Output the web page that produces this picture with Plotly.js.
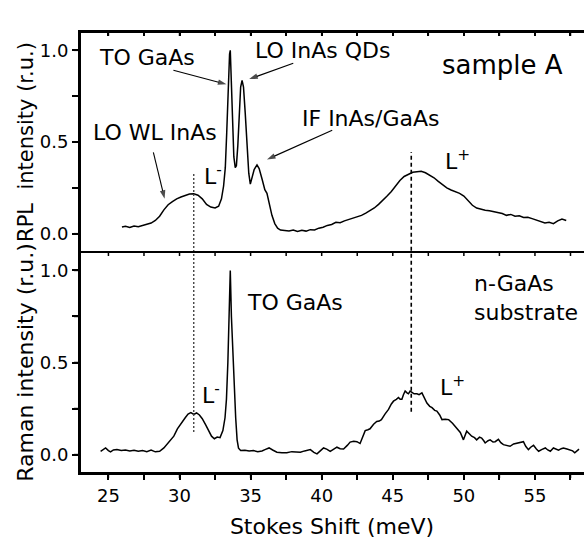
<!DOCTYPE html>
<html>
<head>
<meta charset="utf-8">
<script src="https://cdn.plot.ly/plotly-3.0.1.min.js"></script>
<style>html,body{margin:0;padding:0;background:#fff;}</style>
</head>
<body>
<div id="chart" style="width:584px;height:545px;"></div>
<script>
// RPL spectrum, sample A (top panel)
const rplX = [25.95,26.2,26.5,26.8,27.1,27.4,27.7,28.0,28.3,28.6,28.9,29.2,29.5,29.8,30.1,30.4,30.7,31.0,31.3,31.6,31.9,32.2,32.5,32.75,32.95,33.1,33.22,33.32,33.42,33.52,33.57,33.64,33.72,33.82,33.92,34.0,34.1,34.2,34.3,34.4,34.5,34.62,34.75,34.87,34.98,35.1,35.25,35.45,35.6,35.8,36.0,36.15,36.3,36.5,36.7,36.9,37.1,37.4,37.7,38.0,38.3,38.6,38.9,39.2,39.5,39.8,40.1,40.4,40.7,41.0,41.3,41.6,41.9,42.2,42.5,42.8,43.1,43.4,43.7,44.0,44.3,44.6,44.9,45.2,45.5,45.8,46.1,46.4,46.7,47.0,47.3,47.6,47.9,48.2,48.5,48.8,49.1,49.4,49.7,50.0,50.3,50.6,50.9,51.2,51.5,51.8,52.1,52.4,52.7,53.0,53.3,53.6,53.9,54.2,54.5,54.8,55.1,55.4,55.7,56.0,56.3,56.6,56.9,57.2];
const rplY = [0.036,0.040,0.034,0.042,0.038,0.046,0.050,0.058,0.072,0.095,0.130,0.158,0.175,0.190,0.200,0.210,0.216,0.218,0.210,0.190,0.160,0.145,0.140,0.150,0.190,0.260,0.36,0.55,0.78,0.98,1.0,0.80,0.58,0.42,0.36,0.37,0.48,0.66,0.80,0.836,0.80,0.66,0.46,0.33,0.27,0.30,0.35,0.375,0.355,0.30,0.24,0.22,0.17,0.10,0.055,0.030,0.020,0.018,0.015,0.020,0.012,0.018,0.014,0.022,0.020,0.030,0.035,0.045,0.050,0.062,0.060,0.070,0.078,0.082,0.090,0.100,0.112,0.125,0.140,0.160,0.180,0.205,0.230,0.260,0.290,0.312,0.325,0.335,0.338,0.340,0.332,0.320,0.305,0.285,0.265,0.250,0.238,0.230,0.220,0.205,0.180,0.155,0.140,0.132,0.128,0.125,0.120,0.118,0.110,0.100,0.105,0.095,0.098,0.088,0.090,0.082,0.075,0.065,0.058,0.062,0.055,0.070,0.080,0.072];

// Raman spectrum, n-GaAs substrate (bottom panel)
const ramX = [24.45,24.65,24.8,25.0,25.15,25.35,25.6,25.9,26.2,26.5,26.8,27.1,27.4,27.7,28.0,28.3,28.6,28.9,29.1,29.4,29.6,29.85,30.1,30.4,30.6,30.8,31.0,31.2,31.4,31.6,31.85,32.05,32.25,32.45,32.65,32.85,33.05,33.2,33.3,33.4,33.5,33.57,33.65,33.75,33.85,33.95,34.05,34.15,34.3,34.6,34.9,35.2,35.5,35.8,36.05,36.3,36.55,36.85,37.2,37.55,37.9,38.2,38.5,38.8,39.2,39.45,39.67,39.9,40.13,40.35,40.6,40.85,41.07,41.3,41.54,41.8,42.0,42.25,42.48,42.7,42.9,43.06,43.25,43.4,43.65,43.87,44.05,44.2,44.45,44.7,44.9,45.05,45.25,45.4,45.52,45.64,45.75,45.87,46.0,46.1,46.22,46.35,46.5,46.7,46.85,47.05,47.2,47.4,47.6,47.76,47.95,48.1,48.3,48.46,48.7,48.93,49.2,49.5,49.75,49.97,50.1,50.2,50.4,50.55,50.75,50.9,51.1,51.25,51.4,51.5,51.7,51.85,52.05,52.2,52.43,52.6,52.78,53.0,53.25,53.5,53.72,53.95,54.19,54.35,54.54,54.7,54.9,55.1,55.26,55.5,55.73,55.9,56.08,56.3,56.5,56.66,56.85,57.0,57.25,57.5,57.65,57.8,57.95,58.1];
const ramY = [0.018,0.030,0.036,0.022,0.015,0.025,0.028,0.022,0.025,0.020,0.024,0.018,0.022,0.016,0.024,0.015,0.018,0.036,0.055,0.080,0.100,0.140,0.170,0.200,0.220,0.228,0.218,0.226,0.215,0.195,0.160,0.130,0.100,0.086,0.095,0.092,0.130,0.200,0.300,0.500,0.800,1.0,0.75,0.55,0.34,0.20,0.08,0.035,0.022,0.024,0.020,0.022,0.016,0.020,0.028,0.036,0.025,0.013,0.010,0.010,0.016,0.014,0.013,0.020,0.027,0.012,0.004,0.020,0.036,0.030,0.018,0.030,0.040,0.032,0.030,0.050,0.068,0.072,0.070,0.060,0.100,0.130,0.135,0.140,0.165,0.180,0.182,0.190,0.220,0.245,0.275,0.290,0.300,0.310,0.300,0.300,0.325,0.345,0.335,0.330,0.345,0.340,0.330,0.330,0.325,0.335,0.310,0.280,0.262,0.255,0.240,0.236,0.215,0.190,0.192,0.190,0.170,0.145,0.120,0.080,0.105,0.127,0.112,0.100,0.092,0.080,0.095,0.090,0.075,0.063,0.075,0.080,0.068,0.070,0.083,0.065,0.054,0.050,0.045,0.058,0.063,0.068,0.070,0.045,0.027,0.040,0.050,0.030,0.018,0.028,0.036,0.025,0.018,0.036,0.028,0.024,0.032,0.036,0.030,0.024,0.020,0.010,0.020,0.030];

// Guide lines (L- and L+ positions, meV)
const lMinusPos = 31.0;
const lPlusPos = 46.3;

// Annotation arrows in the top panel: tail -> head (meV, r.u.)
const arrowTailX = [29.57, 38.0, 28.16, 40.74];
const arrowTailY = [0.891, 0.929, 0.444, 0.564];
const arrowHeadX = [33.30, 34.90, 28.95, 36.15];
const arrowHeadY = [0.815, 0.843, 0.19, 0.405];

// Tick positions / labels (major + minor, minor unlabeled)
const xTickVals = [25, 27.5, 30, 32.5, 35, 37.5, 40, 42.5, 45, 47.5, 50, 52.5, 55, 57.5];
const xTickText = ['25', '', '30', '', '35', '', '40', '', '45', '', '50', '', '55', ''];
const yTickVals = [0, 0.25, 0.5, 0.75, 1.0];
const yTickText = ['0.0', '', '0.5', '', '1.0'];

const xRange = [23, 58.45];
const yRange = [-0.1, 1.1];

const F = 'DejaVu Sans';
const split = 0.5011;

const traces = [
  {x: rplX, y: rplY, xaxis: 'x2', yaxis: 'y2', mode: 'lines', line: {color: '#000', width: 1.5}, hoverinfo: 'skip'},
  {x: ramX, y: ramY, xaxis: 'x', yaxis: 'y', mode: 'lines', line: {color: '#000', width: 1.5}, hoverinfo: 'skip'}
];
arrowTailX.forEach(function(tx, i) {
  traces.push({x: [tx, arrowHeadX[i]], y: [arrowTailY[i], arrowHeadY[i]], xaxis: 'x2', yaxis: 'y2',
    mode: 'lines+markers', line: {color: '#000', width: 1.1}, hoverinfo: 'skip',
    marker: {symbol: 'arrow', size: [0, 9], angleref: 'previous', color: '#000', line: {width: 0}}});
});

function xAx(extra) {
  return Object.assign({range: xRange, showgrid: false, zeroline: false, showline: true, linecolor: 'black', linewidth: 2,
    tickmode: 'array', tickvals: xTickVals, ticktext: xTickText, ticks: 'outside', ticklen: 5,
    tickcolor: 'black', tickwidth: 1.5, tickfont: {family: F, size: 18, color: 'black'}}, extra);
}
function yAx(extra) {
  return Object.assign({range: yRange, showgrid: false, zeroline: false, showline: true, linecolor: 'black', linewidth: 2,
    tickmode: 'array', tickvals: yTickVals, ticktext: yTickText, ticks: 'outside', ticklen: 6,
    tickcolor: 'black', tickwidth: 1.5, tickfont: {family: F, size: 18, color: 'black'}}, extra);
}

const shapes = [
  {type: 'line', xref: 'x', yref: 'paper', x0: lMinusPos, x1: lMinusPos, y0: 0.093, y1: 0.6825,
    line: {color: '#444', width: 1.4, dash: '2px,2px'}},
  {type: 'line', xref: 'x', yref: 'paper', x0: lPlusPos, x1: lPlusPos, y0: 0.139, y1: 0.728,
    line: {color: 'black', width: 1.6, dash: '4px,3px'}}
];
// frame: top border, panel separator, bottom axis, left axis
[1, split, 0].forEach(function(yp) {
  shapes.push({type: 'line', xref: 'paper', yref: 'paper', x0: 0, x1: 1, y0: yp, y1: yp, line: {color: 'black', width: 2}});
});
shapes.push({type: 'line', xref: 'paper', yref: 'paper', x0: 0, x1: 0, y0: 0, y1: 1, line: {color: 'black', width: 2}});
// x ticks: inward at top border and separator, outward at bottom
xTickVals.forEach(function(v) {
  shapes.push({type: 'line', xref: 'x', yref: 'paper', ysizemode: 'pixel', yanchor: 1, x0: v, x1: v, y0: 0, y1: -4, line: {color: 'black', width: 1.5}});
  shapes.push({type: 'line', xref: 'x', yref: 'paper', ysizemode: 'pixel', yanchor: split, x0: v, x1: v, y0: 0, y1: -4, line: {color: 'black', width: 1.5}});
  shapes.push({type: 'line', xref: 'x', yref: 'paper', ysizemode: 'pixel', yanchor: 0, x0: v, x1: v, y0: 0, y1: -5, line: {color: 'black', width: 1.5}});
});
// y ticks, outward, both panels
['y', 'y2'].forEach(function(yr) {
  yTickVals.forEach(function(v) {
    shapes.push({type: 'line', xref: 'paper', yref: yr, xsizemode: 'pixel', xanchor: 0, x0: -6, x1: 0, y0: v, y1: v, line: {color: 'black', width: 1.5}});
  });
});

const layout = {
  width: 584, height: 545,
  margin: {l: 80, r: 0, t: 32, b: 72},
  paper_bgcolor: 'white', plot_bgcolor: 'white',
  showlegend: false,
  font: {family: F, color: 'black'},
  xaxis: xAx({anchor: 'y', domain: [0, 1], side: 'bottom',
    title: {text: 'Stokes Shift (meV)', font: {family: F, size: 22, color: 'black'}, standoff: 14}}),
  xaxis2: xAx({anchor: 'y2', domain: [0, 1], side: 'top', ticks: 'inside', ticklen: 4, showticklabels: false}),
  yaxis: yAx({anchor: 'x', domain: [0, split],
    title: {text: 'Raman intensity (r.u.)', font: {family: F, size: 22, color: 'black'}, standoff: 0}}),
  yaxis2: yAx({anchor: 'x2', domain: [split, 1],
    title: {text: 'RPL\u00a0 intensity (r.u.)', font: {family: F, size: 21, color: 'black'}, standoff: 0}}),
  shapes: shapes,
  annotations: []
};

function ann(text, x, y, ref, size) {
  layout.annotations.push({text: text, x: x, y: y, xref: 'x' + ref, yref: 'y' + ref, xanchor: 'left', yanchor: 'middle',
    showarrow: false, align: 'left', font: {family: F, size: size || 22, color: 'black'}});
}

ann('TO GaAs', 24.23, 0.962, '2');
ann('LO InAs QDs', 35.19, 1.0, '2');
ann('sample A', 48.33, 0.918, '2', 26);
ann('LO WL InAs', 23.74, 0.553, '2');
ann('IF InAs/GaAs', 38.49, 0.629, '2');
ann('L<sup>-</sup>', 31.55, 0.32, '2');
ann('L<sup>+</sup>', 48.54, 0.40, '2');
ann('TO GaAs', 34.63, 0.826, '');
ann('n-GaAs<br>substrate', 50.58, 0.848, '');
ann('L<sup>-</sup>', 31.45, 0.33, '');
ann('L<sup>+</sup>', 48.19, 0.37, '');

Plotly.newPlot('chart', traces, layout, {displayModeBar: false});
</script>
</body>
</html>
